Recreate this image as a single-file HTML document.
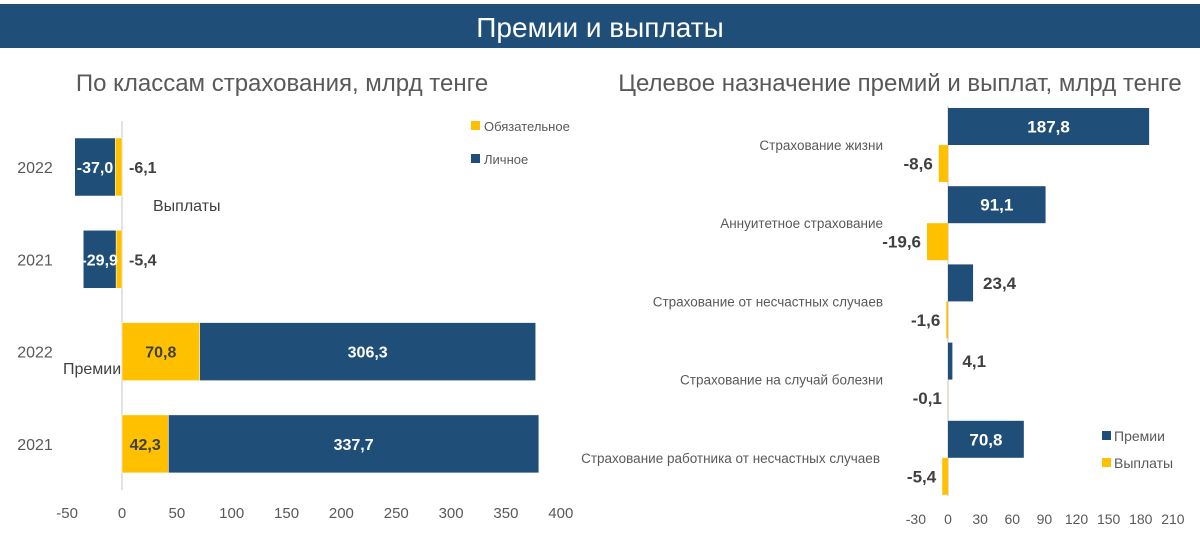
<!DOCTYPE html>
<html><head><meta charset="utf-8"><style>
body{margin:0;background:#fff;width:1200px;height:533px;overflow:hidden;font-family:"Liberation Sans Narrow","Liberation Sans",sans-serif}
</style></head><body>
<svg id="s" width="1200" height="533" xmlns="http://www.w3.org/2000/svg" style="font-family:'Liberation Sans Narrow','Liberation Sans',sans-serif">
<rect x="0" y="4" width="1200" height="44" fill="#1f4e79"/>
<text x="600" y="37" text-anchor="middle" fill="#fff" font-size="28">Премии и выплаты</text>
<text x="282" y="91" text-anchor="middle" fill="#595959" font-size="24">По классам страхования, млрд тенге</text>
<text x="900" y="91" text-anchor="middle" fill="#595959" font-size="24">Целевое назначение премий и выплат, млрд тенге</text>
<g id="L"></g>
<g id="R"></g>
</svg>
<script>
const leftYears=["2022","2021","2022","2021"];
const leftMandatory=[-6.1,-5.4,70.8,42.3];
const leftPersonal=[-37.0,-29.9,306.3,337.7];
const leftTicks=[-50,0,50,100,150,200,250,300,350,400];
const rightCats=["Страхование жизни","Аннуитетное страхование","Страхование от несчастных случаев","Страхование на случай болезни","Страхование работника от несчастных случаев"];
const rightPremiums=[187.8,91.1,23.4,4.1,70.8];
const rightPayouts=[-8.6,-19.6,-1.6,-0.1,-5.4];
const rightTicks=[-30,0,30,60,90,120,150,180,210];
const NS="http://www.w3.org/2000/svg";
const NAVY="#1f4e79",YEL="#ffc000",GR="#595959";
function mk(p,t,a,txt){const e=document.createElementNS(NS,t);for(const k in a)e.setAttribute(k,a[k]);if(txt!==undefined)e.textContent=txt;p.appendChild(e);return e;}
const fmt=v=>v.toFixed(1).replace('.',',');
// LEFT
const L=document.getElementById('L');
const lx=v=>122+v*1.097;
const ly=i=>138+i*92.3;
const lh=58;
let e=mk(L,'line',{x1:122,x2:122,y1:121,y2:490,stroke:'#d9d9d9','stroke-width':1.5});

leftTicks.forEach(t=>{const e=mk(L,'text',{x:lx(t),y:518,'text-anchor':'middle','font-size':15,fill:GR},String(t));
});
leftYears.forEach((y,i)=>{
 const yy=ly(i);
 let e=mk(L,'text',{x:35,y:yy+lh/2+6,'text-anchor':'middle','font-size':16,fill:GR},y);
 
 const m=leftMandatory[i],p=leftPersonal[i];
 let m0=lx(0),m1=lx(m);
 e=mk(L,'rect',{x:Math.min(m0,m1),y:yy,width:Math.abs(m1-m0),height:lh,fill:YEL,stroke:'#fff','stroke-width':0.5});
 
 let p0=lx(m),p1=lx(m+p);
 e=mk(L,'rect',{x:Math.min(p0,p1),y:yy,width:Math.abs(p1-p0),height:lh,fill:NAVY,stroke:'#fff','stroke-width':0.5});
 
 e=mk(L,'text',{x:(p0+p1)/2,y:yy+lh/2+6,'text-anchor':'middle','font-size':16,'font-weight':'bold',fill:'#fff'},fmt(p));
 
 if(m>0){e=mk(L,'text',{x:(m0+m1)/2,y:yy+lh/2+6,'text-anchor':'middle','font-size':16,'font-weight':'bold',fill:'#404040'},fmt(m));}
 else{e=mk(L,'text',{x:lx(0)+7,y:yy+lh/2+6,'text-anchor':'start','font-size':16,'font-weight':'bold',fill:'#404040'},fmt(m));}
 
});
e=mk(L,'text',{x:153,y:211,'font-size':16,fill:'#404040'},'Выплаты');
e=mk(L,'text',{x:63,y:374,'font-size':16,fill:'#404040'},'Премии');
e=mk(L,'rect',{x:471,y:121,width:9,height:9,fill:YEL});
e=mk(L,'text',{x:484,y:131,'font-size':13,fill:GR},'Обязательное');
e=mk(L,'rect',{x:471,y:154,width:9,height:9,fill:NAVY});
e=mk(L,'text',{x:484,y:164,'font-size':13,fill:GR},'Личное');
// RIGHT
const R=document.getElementById('R');
const rx=v=>948+v*1.071;
const ry=i=>108+i*78.2;
const rh=37;
e=mk(R,'line',{x1:948,x2:948,y1:106,y2:496,stroke:'#d9d9d9','stroke-width':1.5});

rightTicks.forEach(t=>{const e=mk(R,'text',{x:rx(t),y:524,'text-anchor':'middle','font-size':14,fill:GR},String(t));
});
rightCats.forEach((c,i)=>{
 const y0=ry(i);
 let e=mk(R,'text',{x:i==4?880:883,y:y0+rh+5,'text-anchor':'end','font-size':13.5,fill:GR},c);
 
 const p=rightPremiums[i],q=rightPayouts[i];
 e=mk(R,'rect',{x:rx(0),y:y0,width:rx(p)-rx(0),height:rh,fill:NAVY});
 
 if(rx(p)-rx(0)>50){e=mk(R,'text',{x:(rx(0)+rx(p))/2,y:y0+rh/2+6,'text-anchor':'middle','font-size':17,'font-weight':'bold',fill:'#fff'},fmt(p));}
 else{e=mk(R,'text',{x:rx(p)+10,y:y0+rh/2+6,'text-anchor':'start','font-size':17,'font-weight':'bold',fill:'#404040'},fmt(p));}
 
 e=mk(R,'rect',{x:rx(q),y:y0+rh,width:rx(0)-rx(q),height:rh,fill:YEL});
 
 e=mk(R,'text',{x:rx(q)-6,y:y0+rh*1.5+6,'text-anchor':'end','font-size':17,'font-weight':'bold',fill:'#404040'},fmt(q));
 
});
e=mk(R,'rect',{x:1102,y:431,width:9,height:9,fill:NAVY});
e=mk(R,'text',{x:1114,y:441,'font-size':14,fill:GR},'Премии');
e=mk(R,'rect',{x:1102,y:458,width:9,height:9,fill:YEL});
e=mk(R,'text',{x:1114,y:468,'font-size':14,fill:GR},'Выплаты');
</script>
</body></html>
